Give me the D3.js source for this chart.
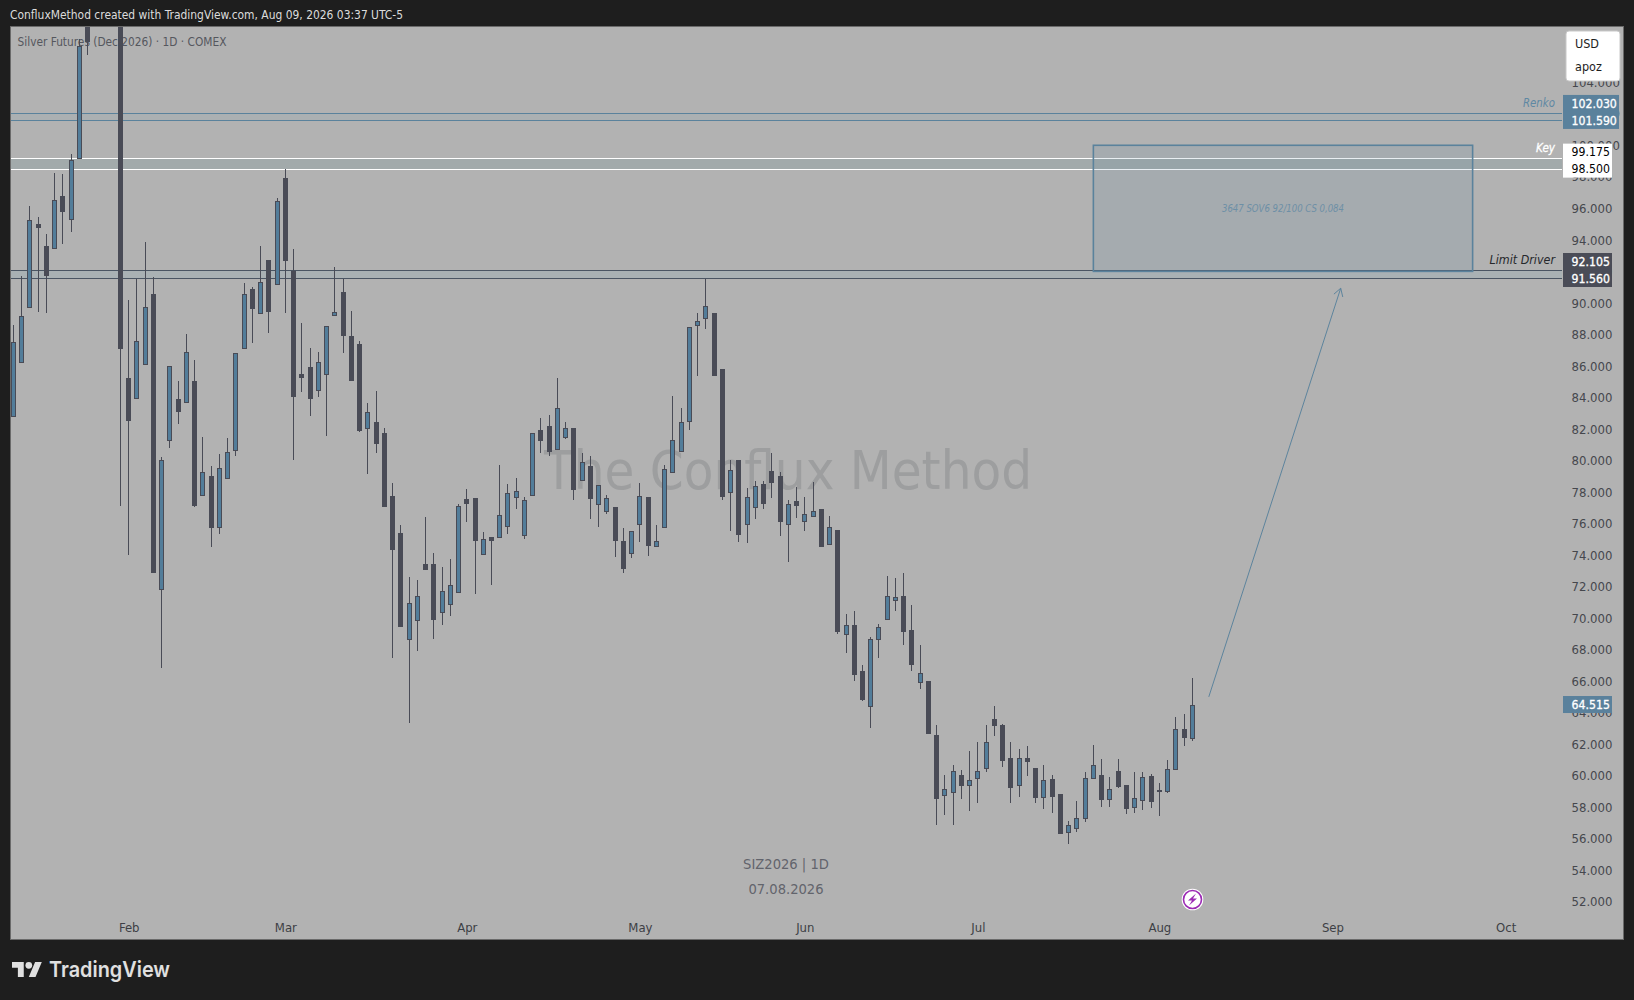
<!DOCTYPE html>
<html>
<head>
<meta charset="utf-8">
<script src="https://cdn.jsdelivr.net/npm/d3@7"></script>
<style>
html, body { margin: 0; padding: 0; background: #1e1e1e; }
svg { display: block; }
text { font-family: "DejaVu Sans Condensed", "DejaVu Sans"; font-stretch: condensed; }
</style>
</head>
<body>
<svg class="Chart"></svg>
<script>
// daily candles of SIZ2026, one entry per trading day from early January to Aug 7
const opens = [82.84,86.23,89.74,95.01,93.61,93.48,96.78,95.32,99.19,110.5,
112,116,120,122,85.23,83.98,86.10,90.56,71.83,81.28,
83.88,83.69,85.04,77.79,79.01,75.80,78.91,80.64,87.16,90.88,
89.34,92.72,91.22,97.92,92.04,85.48,85.93,84.49,85.50,89.25,
90.69,87.90,87.39,82.08,82.44,81.75,77.75,75.40,68.65,69.86,
73.43,73.46,70.39,70.89,71.67,77.56,77.62,74.09,75.15,75.16,
75.86,77.70,75.29,77.83,81.92,82.19,80.75,81.51,82.06,78.78,
79.65,77.26,76.81,77.05,74.90,74.13,75.99,77.68,74.59,75.80,
79.25,80.62,82.53,88.62,89.06,89.36,85.80,78.02,80.03,75.99,
77.07,78.51,79.33,79.01,75.99,77.43,76.13,76.50,76.92,74.72,
75.59,68.97,69.56,66.62,64.40,68.65,69.96,71.17,71.40,69.24,
65.97,66.02,62.58,58.79,58.95,60.02,59.43,59.83,60.51,63.60,
63.22,61.13,59.43,61.11,60.48,58.63,59.79,58.84,56.44,56.66,
57.33,59.88,60.02,58.54,60.28,59.39,58.03,58.48,59.96,59.09,
59.05,60.41,62.95,62.41];
const highs = [88.60,91.71,96.15,95.45,94.37,98.24,98.18,99.45,106.74,112,
118,122,128,126,90.18,91.53,93.86,91.64,80.22,86.00,
85.04,88.03,86.38,81.49,79.65,80.41,81.43,86.80,91.24,91.01,
93.61,92.72,96.66,98.50,93.42,88.74,87.14,86.90,88.51,92.28,
91.52,89.49,87.58,83.65,84.41,82.06,78.57,75.91,72.61,72.42,
76.41,74.11,73.24,73.75,77.26,78.19,77.62,75.46,75.15,79.71,
78.51,78.89,77.68,81.73,82.70,82.89,85.23,82.44,82.06,80.47,
80.28,78.43,77.81,77.05,75.72,75.55,78.57,77.68,75.91,79.71,
84.09,83.33,88.45,89.36,91.52,89.36,85.80,80.03,80.03,78.25,
78.70,78.70,80.47,79.25,77.49,78.31,77.68,78.63,76.92,76.46,
75.59,70.26,70.45,67.02,68.78,69.62,72.67,72.55,72.86,70.83,
68.29,66.02,63.22,60.04,60.68,60.36,61.57,62.14,63.22,64.42,
63.28,62.14,61.69,61.88,60.48,60.68,60.04,58.84,57.12,58.41,
60.23,61.95,61.06,59.92,61.06,59.39,60.23,60.23,60.11,59.56,
61.00,63.73,63.92,66.20];
const lows = [82.84,86.23,89.74,89.42,89.36,93.48,93.74,94.50,99.19,105.70,
110,114,118,77.13,74.02,83.98,86.10,72.94,66.85,80.81,
82.33,83.69,77.07,77.79,74.53,75.36,78.91,80.28,87.16,87.47,
89.34,88.11,91.22,89.38,80.05,84.36,82.84,84.05,81.57,89.17,
86.84,85.12,81.82,79.16,80.50,77.13,67.49,69.52,63.36,67.93,
73.13,68.67,69.56,70.13,71.67,76.12,71.55,74.00,72.12,75.16,
75.33,76.92,75.02,77.83,80.50,80.31,80.75,81.37,77.49,78.78,
76.31,75.80,76.60,73.89,72.88,73.82,74.83,73.95,74.53,75.80,
79.25,80.62,81.95,85.38,88.35,85.44,77.51,75.55,74.85,74.79,
76.29,76.92,77.64,75.23,73.58,76.37,75.55,76.50,74.59,74.65,
69.01,67.80,66.03,64.76,63.04,67.49,69.96,70.47,68.31,66.66,
65.52,62.73,56.89,57.52,56.89,58.54,57.78,58.29,60.25,62.54,
60.57,58.29,58.67,60.01,58.29,57.91,57.65,56.32,55.68,56.44,
57.08,59.81,58.03,58.03,59.23,57.59,57.65,57.84,57.97,57.42,
58.92,60.41,61.91,62.22];
const closes = [87.50,89.17,95.26,94.82,91.77,96.53,95.83,99.07,106.30,106.62,
116,120,124,87.16,82.59,87.58,89.72,72.94,80.03,85.98,
83.16,86.86,77.19,79.25,75.80,79.50,80.52,86.80,90.54,89.69,
91.31,89.50,96.45,92.74,84.11,85.31,83.98,86.23,88.51,89.41,
87.98,85.12,81.95,83.06,81.13,77.13,74.40,69.52,70.94,71.42,
73.13,69.94,71.72,72.08,77.09,77.32,74.97,75.00,74.97,76.52,
77.92,78.04,77.47,81.73,81.33,80.62,83.31,82.04,78.21,79.88,
77.64,78.43,77.60,74.97,73.20,75.55,77.73,74.65,74.87,79.44,
81.28,82.42,88.45,88.84,89.78,85.44,77.75,79.38,75.36,77.66,
78.36,77.32,78.65,76.18,77.22,77.19,76.59,76.78,74.59,75.76,
69.20,69.54,66.47,64.88,68.65,69.41,71.38,71.32,69.20,67.11,
66.50,62.73,58.60,59.14,60.28,59.43,59.71,60.28,62.12,63.24,
61.02,59.30,61.11,60.96,58.67,59.71,58.73,56.36,56.85,57.30,
59.83,60.66,58.54,59.14,59.36,57.97,58.57,59.90,58.41,59.01,
60.41,62.95,62.48,64.515];

// month labels and the bar number each one sits on (Sep, Oct are past the last bar)
const monthLabels = ["Feb","Mar","Apr","May","Jun","Jul","Aug","Sep","Oct"];
const monthBars = [14,33,55,76,96,117,139,160,181];
const priceTicks = [52,54,56,58,60,62,64,66,68,70,72,74,76,78,80,82,84,86,88,90,92,94,96,98,100,102,104];

// horizontal zones drawn on the chart
const zoneNames = ["Renko","Key","Limit Driver"];
const zoneHighs = [102.03,99.175,92.105];
const zoneLows = [101.59,98.5,91.56];
const zoneLine = ["#5a829c","#ffffff","#4a5563"];
const zoneFill = ["#abb0b2","#a2aaab","#a9b1b4"];
const zoneTag = ["#5a819c","#ffffff","#4a4c57"];
const zoneTagText = ["#ffffff","#000000","#ffffff"];
const zoneTagWidth = [56,49,49];
const zoneNameWidth = [32,19,65.5];

// target box and the projected move, in bar number and price
const boxBars = [131,177];
const boxPrices = [100,92];
const arrowBars = [145,161];
const arrowPrices = [65,90.93];
const lastPrice = 64.515;

const width = 1634, height = 1000;
const pane = {left: 10.5, top: 26.5, right: 1623.5, bottom: 939.5};
const upColor = "#527d9a", downColor = "#494b56", paneColor = "#b2b2b2";

const svg = d3.select(".Chart").attr("width", width).attr("height", height);

const x = d3.scaleLinear().domain([0, 143]).range([13.3, 1192.3]);
const y = d3.scaleLinear().domain([91.56, 102.03]).range([278.3, 113.3]);
const px = i => Math.floor(x(i)) + 0.5;
const py = p => Math.round(y(p));

svg.append("text").attr("x", 10).attr("y", 19)
    .attr("font-size", 13).attr("fill", "#dcdcdc")
    .attr("textLength", 393).attr("lengthAdjust", "spacingAndGlyphs")
    .text("ConfluxMethod created with TradingView.com, Aug 09, 2026 03:37 UTC-5");

svg.append("rect")
    .attr("x", pane.left).attr("y", pane.top)
    .attr("width", pane.right - pane.left).attr("height", pane.bottom - pane.top)
    .attr("fill", paneColor).attr("stroke", "#6a6a6a");

svg.append("clipPath").attr("id", "paneClip").append("rect")
    .attr("x", pane.left + 0.5).attr("y", pane.top + 0.5)
    .attr("width", pane.right - pane.left - 1).attr("height", pane.bottom - pane.top - 1);

// watermark and session text sit under the bars
svg.append("text").attr("x", 788).attr("y", 489)
    .attr("text-anchor", "middle").attr("font-size", 54).attr("fill", "#9d9e9f")
    .text("The Conflux Method");
svg.append("text").attr("x", 786).attr("y", 869)
    .attr("text-anchor", "middle").attr("font-size", 14.6).attr("fill", "#62646c")
    .text("SIZ2026 | 1D");
svg.append("text").attr("x", 786).attr("y", 894)
    .attr("text-anchor", "middle").attr("font-size", 14.6).attr("fill", "#62646c")
    .text("07.08.2026");
svg.append("text").attr("x", 17.5).attr("y", 46)
    .attr("font-size", 13).attr("fill", "#55575e")
    .attr("textLength", 209).attr("lengthAdjust", "spacingAndGlyphs")
    .text("Silver Futures (Dec 2026) · 1D · COMEX");

// axes, drawn first so the price tags cover them
const yAxis = svg.append("g").attr("transform", "translate(1571.5,0)")
    .call(d3.axisRight(y).tickValues(priceTicks).tickSize(0).tickPadding(0).tickFormat(d3.format(".3f")));
const xAxis = svg.append("g").attr("transform", "translate(0,922.5)")
    .call(d3.axisBottom(x).tickValues(monthBars).tickSize(0).tickPadding(0)
        .tickFormat((d, i) => monthLabels[i]));
svg.selectAll(".domain").remove();
yAxis.selectAll("text").attr("font-size", 13).attr("fill", "#45474d");
xAxis.selectAll("text").attr("font-size", 13).attr("fill", "#3d3f45");

// zones
const plot = svg.append("g").attr("clip-path", "url(#paneClip)");
const zones = plot.selectAll(".zone").data(zoneNames)
    .join("g").attr("class", "zone");
zones.append("rect")
    .attr("x", pane.left)
    .attr("y", (d, i) => py(zoneHighs[i]))
    .attr("width", 1562 - pane.left)
    .attr("height", (d, i) => py(zoneLows[i]) - py(zoneHighs[i]))
    .attr("fill", (d, i) => zoneFill[i]);
[zoneHighs, zoneLows].forEach(level => {
    zones.append("line")
        .attr("x1", pane.left).attr("x2", 1562)
        .attr("y1", (d, i) => py(level[i]) + 0.5)
        .attr("y2", (d, i) => py(level[i]) + 0.5)
        .attr("stroke", (d, i) => zoneLine[i]);
});

// target box
plot.append("rect")
    .attr("x", x(boxBars[0])).attr("y", y(boxPrices[0]))
    .attr("width", x(boxBars[1]) - x(boxBars[0]))
    .attr("height", y(boxPrices[1]) - y(boxPrices[0]))
    .attr("fill", "#4f7c9a").attr("fill-opacity", 0.13)
    .attr("stroke", "#5a829c").attr("stroke-width", 1.6);
plot.append("text")
    .attr("x", (x(boxBars[0]) + x(boxBars[1])) / 2).attr("y", 212)
    .attr("text-anchor", "middle").attr("font-size", 10.5).attr("font-style", "italic")
    .attr("fill", "#6d8fa6")
    .attr("textLength", 122).attr("lengthAdjust", "spacingAndGlyphs")
    .text("3647 SOV6 92/100 CS 0,084");

// projected move
const ax = arrowBars.map(x), ay = arrowPrices.map(y);
const angle = Math.atan2(ay[1] - ay[0], ax[1] - ax[0]);
const barb = 9;
plot.append("path")
    .attr("d", d3.line()([[ax[0], ay[0]], [ax[1], ay[1]]]))
    .attr("stroke", "#5d849d").attr("fill", "none");
plot.append("path")
    .attr("d", d3.line()([
        [ax[1] + barb * Math.cos(angle + 2.6), ay[1] + barb * Math.sin(angle + 2.6)],
        [ax[1], ay[1]],
        [ax[1] + barb * Math.cos(angle - 2.6), ay[1] + barb * Math.sin(angle - 2.6)]]))
    .attr("stroke", "#5d849d").attr("fill", "none");

// candles
const bars = plot.selectAll(".bar").data(d3.range(opens.length))
    .join("g").attr("class", "bar");
bars.append("line")
    .attr("x1", px).attr("x2", px)
    .attr("y1", i => py(highs[i])).attr("y2", i => py(lows[i]))
    .attr("stroke", downColor);
bars.append("rect")
    .attr("x", i => px(i) - 2)
    .attr("y", i => py(Math.max(opens[i], closes[i])) + 0.5)
    .attr("width", 4)
    .attr("height", i => Math.max(py(Math.min(opens[i], closes[i])) - py(Math.max(opens[i], closes[i])), 1))
    .attr("fill", i => closes[i] >= opens[i] ? upColor : downColor)
    .attr("stroke", downColor);

// right side tags, lower price sits on its level and the upper one is pushed 17px above
zoneNames.forEach((name, i) => {
    const lowY = y(zoneLows[i]);
    svg.append("rect")
        .attr("x", 1563).attr("y", lowY - 25.3)
        .attr("width", zoneTagWidth[i]).attr("height", 34)
        .attr("fill", zoneTag[i]);
    [[zoneHighs[i], lowY - 17], [zoneLows[i], lowY]].forEach(t => {
        svg.append("text")
            .attr("x", 1571.5).attr("y", t[1]).attr("dy", "0.36em")
            .attr("font-size", 12.2)
            .attr("fill", zoneTagText[i])
            .attr("stroke", i == 1 ? "none" : zoneTagText[i]).attr("stroke-width", 0.3)
            .text(d3.format(".3f")(t[0]));
    });
    svg.append("text")
        .attr("x", 1555).attr("y", y(zoneHighs[i]) - 6)
        .attr("text-anchor", "end").attr("font-size", 13).attr("font-style", "italic")
        .attr("fill", i == 0 ? "#5f88a3" : i == 1 ? "#ffffff" : "#26282c")
        .attr("stroke", i == 1 ? "#ffffff" : "none").attr("stroke-width", 0.3)
        .attr("textLength", zoneNameWidth[i]).attr("lengthAdjust", "spacingAndGlyphs")
        .text(name);
});

svg.append("rect")
    .attr("x", 1563).attr("y", y(lastPrice) - 8.5)
    .attr("width", 49).attr("height", 17)
    .attr("fill", "#5a819c");
svg.append("text")
    .attr("x", 1571.5).attr("y", y(lastPrice)).attr("dy", "0.36em")
    .attr("font-size", 12.2).attr("fill", "#ffffff")
    .attr("stroke", "#ffffff").attr("stroke-width", 0.3)
    .text(d3.format(".3f")(lastPrice));

// currency and unit box
svg.append("rect")
    .attr("x", 1566).attr("y", 31).attr("width", 54).attr("height", 50).attr("rx", 3)
    .attr("fill", "#ffffff").attr("stroke", "#c8c8c8");
svg.append("text").attr("x", 1575).attr("y", 48).attr("font-size", 12.5).attr("fill", "#1e1e1e").text("USD");
svg.append("text").attr("x", 1575).attr("y", 71).attr("font-size", 12.5).attr("fill", "#1e1e1e").text("apoz");

// event marker under the last bar
const marker = svg.append("g").attr("transform", "translate(" + px(143) + ",899.5)");
marker.append("circle").attr("r", 10.8).attr("fill", "#ffffff");
marker.append("circle").attr("r", 9).attr("fill", "#ffffff").attr("stroke", "#9c2bb5").attr("stroke-width", 1.6);
marker.append("path").attr("d", "M3.5,-6 L-4.5,1 L-0.5,1 L-3.5,6 L4.5,-1 L0.5,-1 Z").attr("fill", "#9c2bb5");

// footer logo
const logo = svg.append("g").attr("transform", "translate(12,958.6) scale(0.84)").attr("fill", "#e0e0e0");
logo.append("path").attr("d", "M14 22H7V11H0V4h14v18zM28 22h-8l7.5-18h8L28 22z");
logo.append("circle").attr("cx", 20).attr("cy", 8).attr("r", 4);
svg.append("text").attr("x", 49).attr("y", 977)
    .attr("font-size", 22).attr("font-weight", 600).attr("fill", "#e0e0e0")
    .attr("textLength", 121).attr("lengthAdjust", "spacingAndGlyphs")
    .style("font-family", "Inter").style("font-stretch", "normal")
    .text("TradingView");
</script>
</body>
</html>
